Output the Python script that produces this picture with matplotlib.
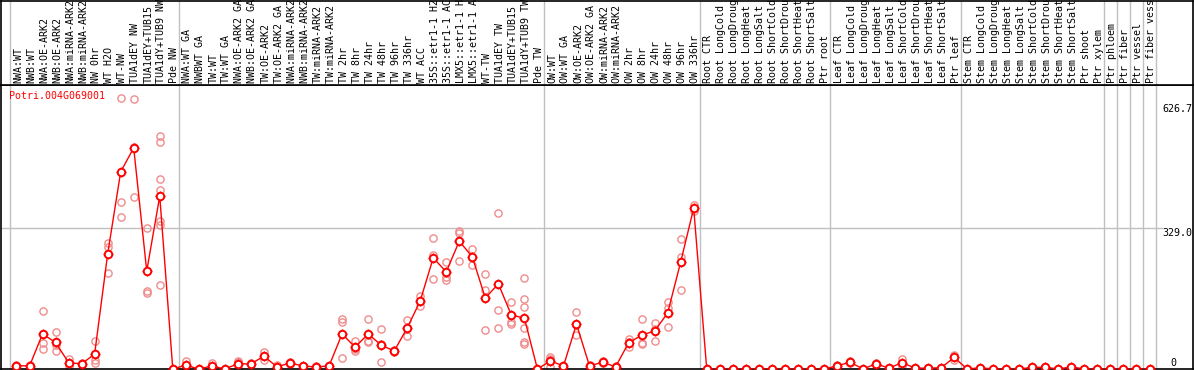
import numpy as np
import matplotlib
matplotlib.use('Agg')
import matplotlib.pyplot as plt

# sample labels (one column each)
labels = [
    'NWA:WT', 'NWB:WT', 'NWA:OE-ARK2', 'NWB:OE-ARK2', 'NWA:miRNA-ARK2', 'NWB:miRNA-ARK2',
    'NW 0hr', 'WT H2O', 'WT-NW', 'TUA1dEY NW', 'TUA1dEY+TUB15', 'TUA1dY+TUB9 NW', 'Pde NW',
    'NWA:WT GA', 'NWBWT GA', 'TW:WT', 'TW:WT GA', 'NWA:OE-ARK2 GA', 'NWB:OE-ARK2 GA',
    'TW:OE-ARK2', 'TW:OE-ARK2 GA', 'NWA:miRNA-ARK2 GA', 'NWB:miRNA-ARK2 GA', 'TW:miRNA-ARK2',
    'TW:miRNA-ARK2 GA', 'TW 2hr', 'TW 8hr', 'TW 24hr', 'TW 48hr', 'TW 96hr', 'TW 336hr',
    'WT ACC', '35S::etr1-1 H2O', '35S::etr1-1 ACC', 'LMX5::etr1-1 H2O', 'LMX5::etr1-1 ACC',
    'WT-TW', 'TUA1dEY TW', 'TUA1dEY+TUB15', 'TUA1dY+TUB9 TW', 'Pde TW',
    'OW:WT', 'OW:WT GA', 'OW:OE-ARK2', 'OW:OE-ARK2 GA', 'OW:miRNA-ARK2', 'OW:miRNA-ARK2 GA',
    'OW 2hr', 'OW 8hr', 'OW 24hr', 'OW 48hr', 'OW 96hr', 'OW 336hr',
    'Root CTR', 'Root LongCold', 'Root LongDrought', 'Root LongHeat', 'Root LongSalt',
    'Root ShortCold', 'Root ShortDrought', 'Root ShortHeat', 'Root ShortSalt', 'Ptr root',
    'Leaf CTR', 'Leaf LongCold', 'Leaf LongDrought', 'Leaf LongHeat', 'Leaf LongSalt',
    'Leaf ShortCold', 'Leaf ShortDrought', 'Leaf ShortHeat', 'Leaf ShortSalt', 'Ptr leaf',
    'Stem CTR', 'Stem LongCold', 'Stem LongDrought', 'Stem LongHeat', 'Stem LongSalt',
    'Stem ShortCold', 'Stem ShortDrought', 'Stem ShortHeat', 'Stem ShortSalt', 'Ptr shoot',
    'Ptr xylem', 'Ptr phloem', 'Ptr fiber', 'Ptr vessel', 'Ptr fiber vessel',
]

# group boundaries (column index where a new group starts)
group_edges = [0, 13, 41, 53, 63, 73, 84, 85, 86, 87, 88]

# mean expression per sample
means = [
    8, 7, 82, 62, 15, 12, 35, 269, 461, 517, 229, 404, 0,
    9, 0, 7, 0, 12, 12, 30, 5, 14, 7, 5, 7, 82, 51, 82, 56, 42, 96, 159,
    260, 227, 299, 262, 166, 199, 126, 119, 0,
    19, 7, 105, 7, 16, 5, 61, 79, 89, 131, 250, 376,
    0, 0, 0, 0, 0, 0, 0, 0, 0, 0,
    7, 16, 0, 12, 2, 15, 2, 2, 3, 27,
    0, 3, 0, 0, 0, 4, 4, 0, 5, 0, 0,
    0, 0, 0, 0,
]

# replicate values per sample
reps = [
    [8, 6, 9], [7, 5, 9], [136, 61, 47], [87, 42, 57], [23, 7, 15], [12, 10, 14],
    [65, 21, 14], [295, 285, 224], [634, 390, 355], [631, 402, 518], [330, 182, 178],
    [545, 531, 444, 418, 346, 337, 196], [0, 0, 0],
    [19, 5, 3], [0, 0], [14, 4, 3], [0, 0], [16, 2, 18], [12, 11, 13], [40, 21, 30],
    [9, 2, 4], [16, 12, 14], [7, 6, 8], [5, 4, 6], [7, 6, 8], [117, 110, 26],
    [65, 42, 46], [117, 65, 64], [94, 16, 58], [42, 40, 44], [115, 77, 96],
    [171, 147, 159], [306, 267, 210], [250, 215, 208], [323, 318, 252], [281, 243, 262],
    [222, 185, 91], [365, 138, 96], [157, 110, 105], [213, 164, 145, 96, 63, 58], [0, 0],
    [28, 24, 5], [7, 6, 8], [133, 79, 103], [7, 5, 9], [19, 14, 15], [5, 3, 7],
    [70, 51, 62], [117, 61, 58], [108, 65, 94], [157, 143, 98], [304, 262, 185],
    [383, 376, 369],
    [0, 0], [0, 0], [0, 0], [0, 0], [0, 0], [0, 0], [0, 0], [0, 0], [0, 0], [0, 0],
    [9, 5], [19, 13], [0, 0], [14, 10], [2, 2], [24, 6], [2, 2], [2, 2], [3, 3], [32, 22],
    [0, 0], [3, 3], [0, 0], [0, 0], [0, 0], [4, 4], [4, 4], [0, 0], [5, 5], [0, 0], [0, 0],
    [0, 0], [0, 0], [0, 0], [0, 0],
]

gene_name = 'Potri.004G069001'
y_ticks = [626.7, 329.0, 0]

mono = 'DejaVu Sans Mono'
fs = 7.2
grey = '#c0c0c0'
red = '#ff0000'
pale = '#f08c8c'

W, H = 1194, 370
fig = plt.figure(figsize=(W / 100, H / 100), dpi=100)
fig.patch.set_facecolor('white')

x = np.arange(len(means))
xlim = (-1.19, 90.34)

# main plot panel
ax = fig.add_axes([1 / W, 1 / H, 1192 / W, 284 / H])
ax.set_xlim(*xlim)
ax.set_ylim(0, 664)
ax.set_xticks([])
ax.set_yticks([])
for s in ax.spines.values():
    s.set_color('black')
    s.set_linewidth(1.2)

for e in group_edges:
    ax.axvline(e - 0.5, color=grey, lw=1.0, zorder=1)
ax.hlines(329.0, xlim[0], 88.0, color=grey, lw=1.0, zorder=1)

for i, vals in enumerate(reps):
    ax.plot([i] * len(vals), vals, 'o', ms=5.2, mfc='none', mec=pale, mew=1.0, zorder=2)

ax.plot(x, means, '-', color=red, lw=1.0, zorder=3)
ax.plot(x, means, '+', ms=7.5, color=red, mew=1.0, zorder=3)
ax.plot(x, means, 'o', ms=5.4, mfc='white', mec=red, mew=1.4, zorder=4)

ax.text(-0.55, 638, gene_name, color=red, family=mono, fontsize=fs, ha='left', va='center')

for v in y_ticks:
    if v == 0:
        ax.text(88.6, v + 3, '0', family=mono, fontsize=fs, ha='left', va='bottom')
    elif v > 600:
        ax.annotate(f'{v:.1f}', (88.0, v), xytext=(0, -3), textcoords='offset pixels',
                    family=mono, fontsize=fs, ha='left', va='top')
    else:
        ax.text(88.0, v, f'{v:.1f}', family=mono, fontsize=fs, ha='left', va='top')

# header with rotated sample names
hx = fig.add_axes([1 / W, 285 / H, 1192 / W, 84.5 / H])
hx.set_xlim(*xlim)
hx.set_ylim(0, 84.5)
hx.set_xticks([])
hx.set_yticks([])
for s in hx.spines.values():
    s.set_color('black')
    s.set_linewidth(1.2)
for e in group_edges:
    hx.axvline(e - 0.5, color=grey, lw=1.0, zorder=1)
for i, lab in enumerate(labels):
    hx.text(i + 0.12, 2, lab, rotation=90, family=mono, fontsize=fs,
            ha='center', va='bottom')

fig.savefig('out.png', dpi=100)
